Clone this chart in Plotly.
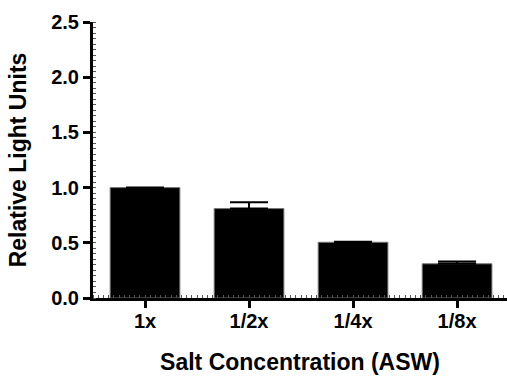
import plotly.graph_objects as go

categories = ["1x", "1/2x", "1/4x", "1/8x"]
values = [1.0, 0.81, 0.505, 0.31]
errors = [0.0, 0.057, 0.005, 0.02]
y_ticks = [0.0, 0.5, 1.0, 1.5, 2.0, 2.5]
y_ticklabels = ["0.0", "0.5", "1.0", "1.5", "2.0", "2.5"]

xpos = list(range(len(categories)))
font = "Liberation Sans, Arial, sans-serif"

fig = go.Figure()
fig.add_trace(go.Bar(
    x=xpos, y=values, width=0.67,
    marker=dict(color="black", line=dict(color="#777", width=1)),
    error_y=dict(type="data", array=errors, arrayminus=[0]*len(errors), symmetric=False,
                 color="black", thickness=2, width=19),
))
fig.update_layout(
    width=507, height=376,
    margin=dict(l=93, r=0, t=22, b=78),
    paper_bgcolor="white", plot_bgcolor="white",
    showlegend=False,
    font=dict(family=font, color="black"),
)
fig.update_xaxes(
    range=[-0.5, 3.48], tickvals=xpos, ticktext=categories,
    showline=True, linecolor="black", linewidth=3,
    ticks="outside", ticklen=7, tickwidth=3, tickcolor="black",
    ticklabelstandoff=-4,
    tickfont=dict(size=20, family=font, weight="bold"),
    showgrid=False, zeroline=False,
    minor=dict(ticks="inside", ticklen=3, tickwidth=1, tickcolor="#555", dtick=0.05, showgrid=False),
    title=dict(text="<b>Salt Concentration (ASW)</b>", font=dict(size=23, family=font), standoff=23),
)
fig.update_yaxes(
    range=[0, 2.5], tickvals=y_ticks, ticktext=y_ticklabels,
    showline=True, linecolor="black", linewidth=3,
    ticks="outside", ticklen=7, tickwidth=3, tickcolor="black",
    tickfont=dict(size=20, family=font, weight="bold"),
    showgrid=False, zeroline=False,
    minor=dict(ticks="inside", ticklen=3, tickwidth=1, tickcolor="#555", dtick=0.05, showgrid=False),
    title=dict(text="<b>Relative Light Units</b>", font=dict(size=23, family=font), standoff=19),
)
fig.write_html("out.html", config={"displayModeBar": False},
               post_script="document.body.style.margin='0px';")
